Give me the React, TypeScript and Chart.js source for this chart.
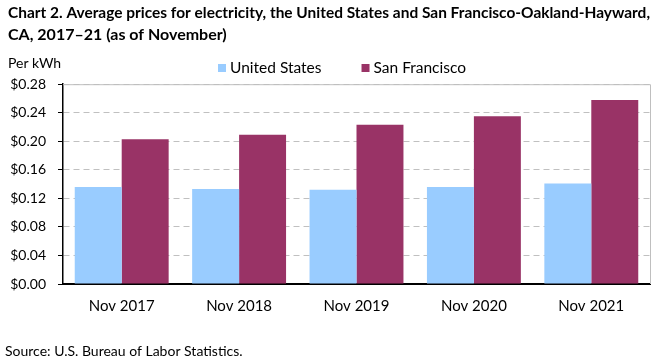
import React, { useEffect, useRef } from "react";
import { Chart, registerables } from "chart.js";

Chart.register(...registerables);

const categories = ["Nov 2017", "Nov 2018", "Nov 2019", "Nov 2020", "Nov 2021"];
const usValues = [0.136, 0.133, 0.132, 0.136, 0.141];
const sfValues = [0.203, 0.209, 0.223, 0.235, 0.258];
const titleLines = [
  "Chart 2. Average prices for electricity, the United States and San Francisco-Oakland-Hayward,",
  "CA, 2017\u201321 (as of November)",
];
const yAxisLabel = "Per kWh";
const sourceText = "Source: U.S. Bureau of Labor Statistics.";

const FONT = "Lato, 'Open Sans', sans-serif";

// Legend drawn from the chart's datasets (labels and colours)
const legendPlugin = {
  id: "customLegend",
  afterDraw(chart: any) {
    const { ctx } = chart;
    ctx.save();
    ctx.font = `15.5px ${FONT}`;
    ctx.textBaseline = "middle";
    ctx.textAlign = "left";
    let x = 218;
    const y = 68;
    chart.data.datasets.forEach((ds: any) => {
      ctx.fillStyle = ds.backgroundColor;
      ctx.fillRect(x, y - 4, 8, 8);
      x += 12;
      ctx.fillStyle = "#000";
      ctx.fillText(ds.label, x, y);
      x += ctx.measureText(ds.label).width + 40;
    });
    ctx.restore();
  },
};

const extrasPlugin = {
  id: "extras",
  afterDraw(chart: any) {
    const { ctx, chartArea } = chart;
    ctx.save();
    ctx.strokeStyle = "#bfbfbf";
    ctx.lineWidth = 1;
    ctx.beginPath();
    ctx.moveTo(chartArea.left, chartArea.top + 0.5);
    ctx.lineTo(chartArea.right + 0.5, chartArea.top + 0.5);
    ctx.lineTo(chartArea.right + 0.5, chartArea.bottom);
    ctx.stroke();
    ctx.fillStyle = "#000";
    ctx.font = `14px ${FONT}`;
    ctx.textBaseline = "middle";
    ctx.textAlign = "left";
    ctx.fillText(yAxisLabel, 8, 63);
    ctx.fillText(sourceText, 5, 351);
    ctx.restore();
  },
};

export default function App() {
  const ref = useRef<HTMLCanvasElement>(null);
  useEffect(() => {
    const chart = new Chart(ref.current!, {
      type: "bar",
      data: {
        labels: categories,
        datasets: [
          {
            label: "United States",
            data: usValues,
            backgroundColor: "#99ccff",
            categoryPercentage: 0.8,
            barPercentage: 1,
          },
          {
            label: "San Francisco",
            data: sfValues,
            backgroundColor: "#993366",
            categoryPercentage: 0.8,
            barPercentage: 1,
          },
        ],
      },
      options: {
        animation: false,
        responsive: false,
        layout: { padding: { left: 8, right: 11, top: 2, bottom: 40 } },
        plugins: {
          title: {
            display: true,
            text: titleLines,
            align: "start",
            color: "#000",
            font: { family: FONT, size: 16, weight: "bold", lineHeight: 1.35 },
            padding: { top: 0, bottom: 39 },
          },
          legend: { display: false },
          tooltip: { enabled: false },
        },
        scales: {
          x: {
            grid: { display: false },
            border: { color: "#000", width: 2 },
            ticks: { color: "#000", font: { family: FONT, size: 15 }, padding: 5 },
          },
          y: {
            min: 0,
            max: 0.28,
            afterFit: (scale: any) => {
              scale.width = 55;
            },
            grid: { color: "#c0c0c0", drawTicks: true, tickLength: 5, tickColor: "#000" },
            border: { color: "#000", width: 1.5, dash: [6, 4] },
            ticks: {
              stepSize: 0.04,
              color: "#000",
              padding: 12,
              font: { family: FONT, size: 14 },
              callback: (v: any) => "$" + Number(v).toFixed(2),
            },
          },
        },
      },
      plugins: [legendPlugin, extrasPlugin],
    });
    return () => chart.destroy();
  }, []);
  return (
    <div style={{ position: "fixed", left: 0, top: 0, width: 661, height: 360, background: "#fff" }}>
      <canvas ref={ref} width={661} height={360} style={{ display: "block" }} />
    </div>
  );
}
